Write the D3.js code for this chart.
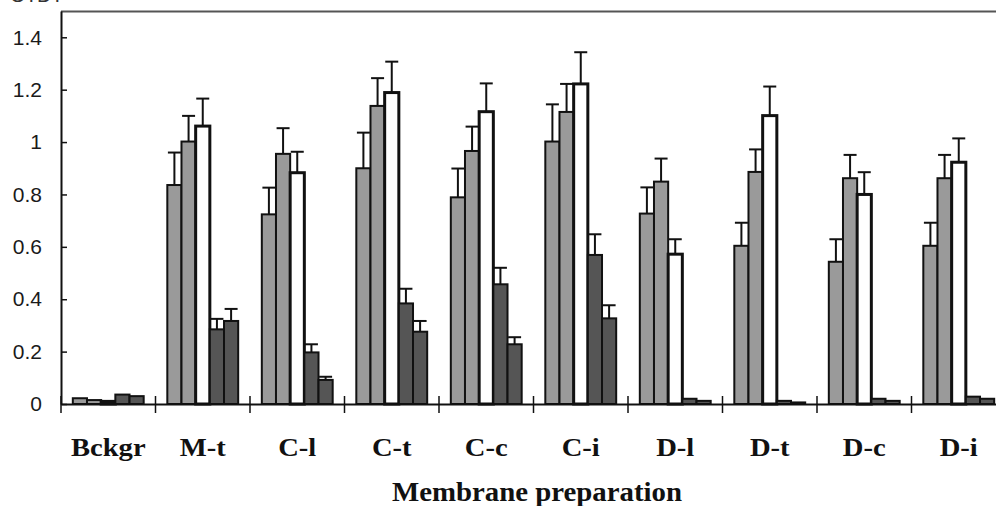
<!DOCTYPE html>
<html>
<head>
<meta charset="utf-8">
<script src="https://cdn.jsdelivr.net/npm/d3@7"></script>
<style>
html,body{margin:0;padding:0;background:#fff;}
svg{display:block;}
</style>
</head>
<body>
<svg id="chart" width="996" height="506"></svg>
<script>
// ---- data ----
const categories = ["Bckgr","M-t","C-l","C-t","C-c","C-i","D-l","D-t","D-c","D-i"];
const seriesNames = ["s1","s2","s3","s4","s5"];
const s1 = [0.022,0.836,0.724,0.900,0.789,1.002,0.727,0.604,0.543,0.604];
const s2 = [0.015,1.002,0.955,1.138,0.966,1.115,0.849,0.886,0.862,0.862];
const s3 = [0.010,1.061,0.883,1.189,1.116,1.222,0.572,1.101,0.800,0.923];
const s4 = [0.036,0.285,0.197,0.384,0.457,0.569,0.020,0.012,0.020,0.028];
const s5 = [0.030,0.317,0.092,0.276,0.228,0.327,0.012,0.006,0.012,0.020];
const e1 = [0,0.124,0.102,0.136,0.110,0.142,0.100,0.088,0.086,0.088];
const e2 = [0,0.098,0.098,0.106,0.093,0.107,0.088,0.086,0.089,0.089];
const e3 = [0,0.105,0.080,0.118,0.108,0.121,0.057,0.111,0.085,0.091];
const e4 = [0,0.040,0.031,0.056,0.063,0.079,0,0,0,0];
const e5 = [0,0.046,0.012,0.041,0.027,0.050,0,0,0,0];
const yTicks = [0,0.2,0.4,0.6,0.8,1,1.2,1.4];
const yTickLabels = ["0","0.2","0.4","0.6","0.8","1","1.2","1.4"];
const xTitle = "Membrane preparation";
const yTitle = "O.D.";

const values = [s1,s2,s3,s4,s5];
const errors = [e1,e2,e3,e4,e5];
const fills = ["#9a9a9a","#9a9a9a","#ffffff","#555555","#555555"];
const strokeW = [2,2,3,2,2];

const svg = d3.select("#chart");
const y = d3.scaleLinear().domain([0,1.5]).range([404,11.1]);
const x = d3.scaleBand().domain(categories).range([61,1006]).padding(0);
const bw = x.bandwidth();
const xs = d3.scaleBand().domain(seriesNames).range([bw*0.125,bw*0.875]).padding(0);
const w = xs.bandwidth();

// partial (cropped in the reference) label at top-left
svg.append("text").attr("x",10).attr("y",2)
  .attr("font-family","Liberation Sans, Arial, sans-serif").attr("font-size",20)
  .attr("fill","#333").attr("letter-spacing",3).text(yTitle);

// top frame line
svg.append("line").attr("x1",61).attr("x2",996).attr("y1",11.5).attr("y2",11.5)
  .attr("stroke","#555").attr("stroke-width",2);

// bars
const data = [];
categories.forEach((c,i)=>{
  seriesNames.forEach((s,j)=>{
    data.push({c, s, j, v: values[j][i], e: errors[j][i]});
  });
});
const g = svg.append("g");
// error bars first (behind bars)
const eb = g.selectAll("g.err").data(data.filter(d=>d.e>0)).join("g").attr("class","err");
eb.append("line")
  .attr("x1",d=>x(d.c)+xs(d.s)+w/2).attr("x2",d=>x(d.c)+xs(d.s)+w/2)
  .attr("y1",d=>y(d.v)).attr("y2",d=>y(d.v+d.e))
  .attr("stroke","#111").attr("stroke-width",2);
eb.append("line")
  .attr("x1",d=>x(d.c)+xs(d.s)+w/2-6.5).attr("x2",d=>x(d.c)+xs(d.s)+w/2+6.5)
  .attr("y1",d=>y(d.v+d.e)).attr("y2",d=>y(d.v+d.e))
  .attr("stroke","#111").attr("stroke-width",2);

g.selectAll("rect.bar").data(data).join("rect").attr("class","bar")
  .attr("x",d=>x(d.c)+xs(d.s))
  .attr("y",d=>y(d.v))
  .attr("width",w)
  .attr("height",d=>y(0)-y(d.v))
  .attr("fill",d=>fills[d.j])
  .attr("stroke","#111")
  .attr("stroke-width",d=>strokeW[d.j]);

// y axis
const yAxis = d3.axisLeft(y).tickValues(yTicks)
  .tickFormat((d,i)=>yTickLabels[i]).tickSizeInner(-6).tickSizeOuter(0).tickPadding(19);
const ya = svg.append("g").attr("transform","translate(61,0)").call(yAxis);
ya.select(".domain").attr("stroke","#111").attr("stroke-width",2);
ya.selectAll(".tick line").attr("stroke","#111").attr("stroke-width",1.5);
ya.selectAll(".tick text").attr("font-family","Liberation Sans, Arial, sans-serif")
  .attr("font-size",21).attr("fill","#1a1a1a");

// x axis: baseline, boundary ticks, labels
const xAxis = d3.axisBottom(x).tickSize(0).tickPadding(0);
const xa = svg.append("g").attr("transform","translate(0,404)").call(xAxis);
xa.select(".domain").attr("stroke","#111").attr("stroke-width",2);
xa.selectAll(".tick text").remove();
xa.selectAll(".tick").append("text")
  .attr("transform","translate(0,52) scale(1.1,1)")
  .attr("text-anchor","middle")
  .attr("font-family","Liberation Serif, Times New Roman, serif")
  .attr("font-weight","bold").attr("font-size",26).attr("fill","#111")
  .text(d=>d);
svg.append("g").selectAll("line").data(categories).join("line")
  .attr("x1",d=>x(d)).attr("x2",d=>x(d))
  .attr("y1",396).attr("y2",413)
  .attr("stroke","#111").attr("stroke-width",1.5);

// x title
svg.append("text")
  .attr("transform","translate(537,501) scale(1.03,1)")
  .attr("text-anchor","middle")
  .attr("font-family","Liberation Serif, Times New Roman, serif")
  .attr("font-weight","bold").attr("font-size",28).attr("fill","#111")
  .text(xTitle);
</script>
</body>
</html>
